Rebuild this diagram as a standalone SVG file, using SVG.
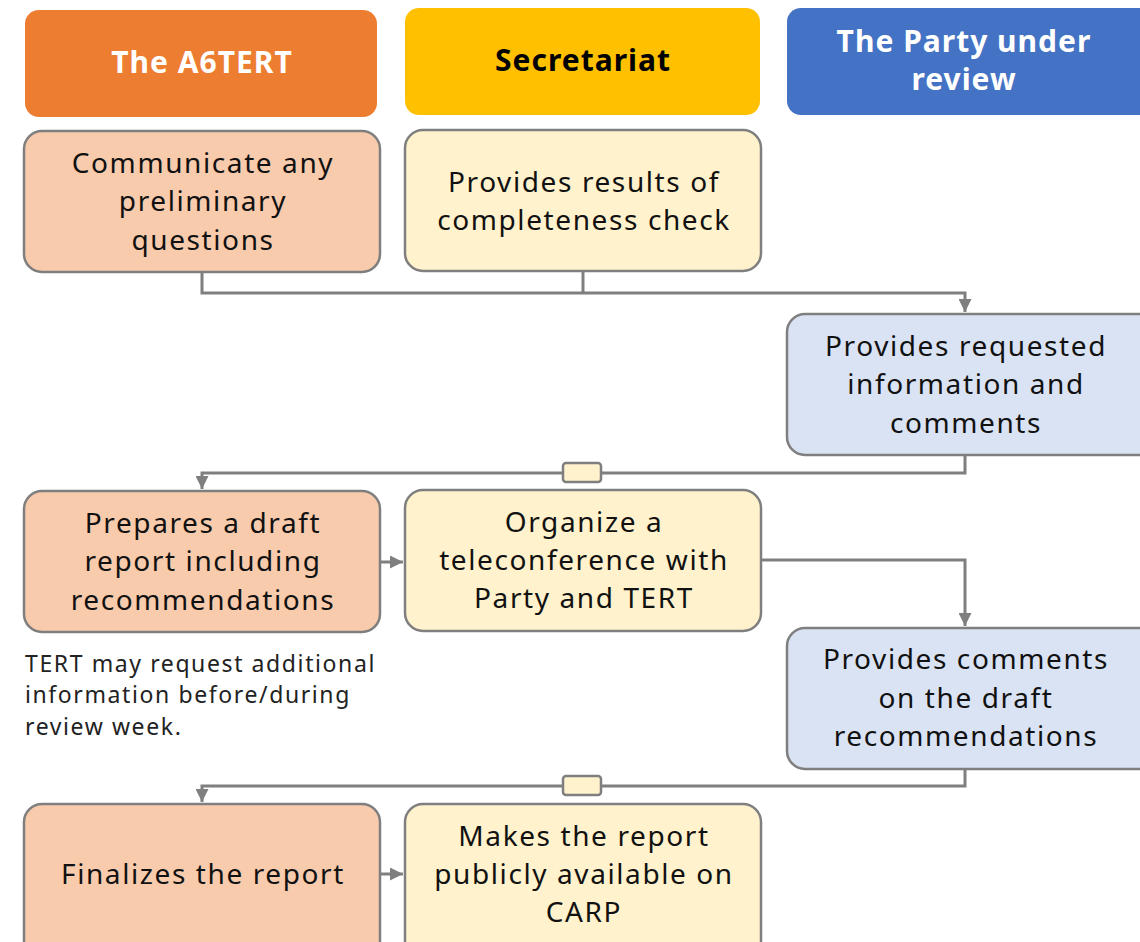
<svg xmlns="http://www.w3.org/2000/svg" width="1140" height="942" viewBox="0 0 1140 942">
<defs>
<marker id="arr" markerWidth="13" markerHeight="13" refX="10" refY="5" orient="auto" markerUnits="userSpaceOnUse" viewBox="0 0 10 10">
<path d="M0,0 L10,5 L0,10 z" fill="#7F7F7F"/>
</marker>
</defs>
<style>
.hdr{font-family:"Noto Sans","Liberation Sans",sans-serif;font-weight:bold;font-size:30px;text-anchor:middle;letter-spacing:1px}
.t{font-family:"Noto Sans","Liberation Sans",sans-serif;font-size:28px;fill:#111;text-anchor:middle;letter-spacing:1.6px}
.note{font-family:"Noto Sans","Liberation Sans",sans-serif;font-size:23px;fill:#222;letter-spacing:1.6px}
.box{stroke:#7F7F7F;stroke-width:2.5}
.a{fill:#F8CBAD}.s{fill:#FFF2CC}.p{fill:#DAE3F3}
.c{fill:none;stroke:#7F7F7F;stroke-width:3}
</style>
<g id="hdr-a6tert"><rect x="25" y="10" width="352" height="107" rx="14" fill="#ED7D31"/><text class="hdr" x="202" y="73" fill="#fff" letter-spacing="2">The A6TERT</text></g>
<g id="hdr-secretariat"><rect x="405" y="8" width="355" height="107" rx="14" fill="#FFC000"/><text class="hdr" x="583" y="71" fill="#000">Secretariat</text></g>
<g id="hdr-party"><rect x="787" y="8" width="370" height="107" rx="14" fill="#4472C4"/><text class="hdr" x="964" y="52" fill="#fff">The Party under</text><text class="hdr" x="964" y="90" fill="#fff">review</text></g>

<g id="connectors">
<polyline class="c" points="202,272 202,293 965,293 965,312" marker-end="url(#arr)"/>
<line class="c" x1="583" y1="271" x2="583" y2="293"/>
<polyline class="c" points="965,455 965,473 202,473 202,489" marker-end="url(#arr)"/>
<rect x="563" y="463" width="38" height="19" rx="3" fill="#FFF2CC" stroke="#7F7F7F" stroke-width="2.5"/>
<line class="c" x1="380" y1="562" x2="403" y2="562" marker-end="url(#arr)"/>
<polyline class="c" points="761,560 965,560 965,626" marker-end="url(#arr)"/>
<polyline class="c" points="965,769 965,786 202,786 202,802" marker-end="url(#arr)"/>
<rect x="563" y="776" width="38" height="19" rx="3" fill="#FFF2CC" stroke="#7F7F7F" stroke-width="2.5"/>
<line class="c" x1="380" y1="874" x2="403" y2="874" marker-end="url(#arr)"/>
</g>

<g id="a1"><rect class="box a" x="24" y="131" width="356" height="141" rx="18"/><text class="t" x="203" y="173">Communicate any</text><text class="t" x="203" y="211">preliminary</text><text class="t" x="203" y="250">questions</text></g>
<g id="s1"><rect class="box s" x="405" y="130" width="356" height="141" rx="18"/><text class="t" x="584" y="192">Provides results of</text><text class="t" x="584" y="230">completeness check</text></g>
<g id="p1"><rect class="box p" x="787" y="314" width="370" height="141" rx="18"/><text class="t" x="966" y="356">Provides requested</text><text class="t" x="966" y="394">information and</text><text class="t" x="966" y="433">comments</text></g>
<g id="a2"><rect class="box a" x="24" y="491" width="356" height="141" rx="18"/><text class="t" x="203" y="533">Prepares a draft</text><text class="t" x="203" y="571">report including</text><text class="t" x="203" y="610">recommendations</text></g>
<g id="s2"><rect class="box s" x="405" y="490" width="356" height="141" rx="18"/><text class="t" x="584" y="532">Organize a</text><text class="t" x="584" y="570">teleconference with</text><text class="t" x="584" y="608">Party and TERT</text></g>
<g id="note"><text class="note" x="25" y="672">TERT may request additional</text><text class="note" x="25" y="703">information before/during</text><text class="note" x="25" y="735">review week.</text></g>
<g id="p2"><rect class="box p" x="787" y="628" width="370" height="141" rx="18"/><text class="t" x="966" y="669">Provides comments</text><text class="t" x="966" y="708">on the draft</text><text class="t" x="966" y="746">recommendations</text></g>
<g id="a3"><rect class="box a" x="24" y="804" width="356" height="160" rx="18"/><text class="t" x="203" y="884">Finalizes the report</text></g>
<g id="s3"><rect class="box s" x="405" y="804" width="356" height="160" rx="18"/><text class="t" x="584" y="846">Makes the report</text><text class="t" x="584" y="884">publicly available on</text><text class="t" x="584" y="922">CARP</text></g>
</svg>
